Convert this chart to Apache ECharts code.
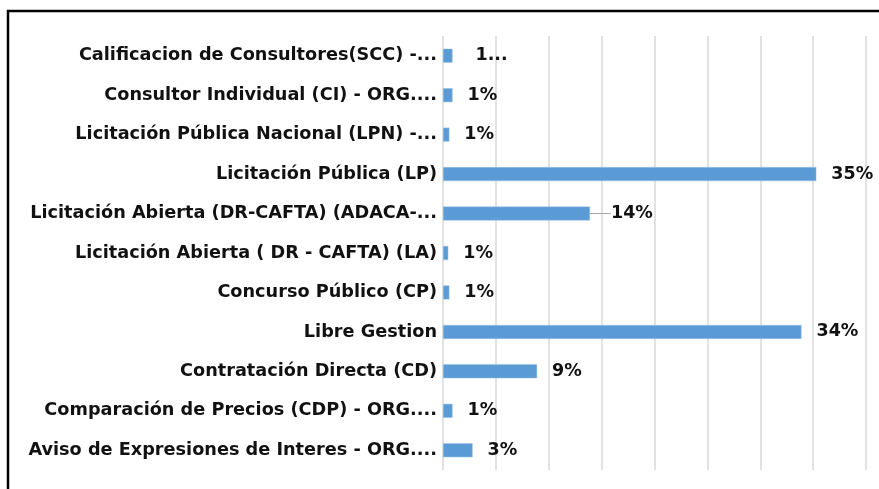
<!DOCTYPE html>
<html>
<head>
<meta charset="utf-8">
<script src="https://cdn.jsdelivr.net/npm/echarts@6/dist/echarts.min.js"></script>
<style>
  html, body { margin: 0; padding: 0; background: #fff; }
  #chart { width: 879px; height: 489px; }
</style>
</head>
<body>
<div id="chart"></div>
<script>
// categories top to bottom, as in the picture
const categories = [
  'Calificacion de Consultores(SCC) -...',
  'Consultor Individual (CI) - ORG....',
  'Licitación Pública Nacional (LPN) -...',
  'Licitación Pública (LP)',
  'Licitación Abierta (DR-CAFTA) (ADACA-...',
  'Licitación Abierta ( DR - CAFTA) (LA)',
  'Concurso Público (CP)',
  'Libre Gestion',
  'Contratación Directa (CD)',
  'Comparación de Precios (CDP) - ORG....',
  'Aviso de Expresiones de Interes - ORG....'
];
// share in percent
const shares = [0.9, 0.9, 0.6, 35.3, 13.9, 0.5, 0.6, 33.9, 8.9, 0.9, 2.8];
const valueLabels = ['1...', '1%', '1%', '35%', '14%', '1%', '1%', '34%', '9%', '1%', '3%'];

const chart = echarts.init(document.getElementById('chart'));

const labelFont = 'DejaVu Sans';

// the 14% label sits a bit away from its bar, with a short leader line
const barData = shares.map((v, i) =>
  i === 4
    ? {
        value: v,
        label: { padding: [0, 0, 0, 9] },
        labelLine: { show: true, lineStyle: { color: '#a6a6a6', width: 1 } }
      }
    : v
);

chart.setOption({
  animation: false,
  grid: { left: 443, right: 13, top: 36, bottom: 19 },
  graphic: [{
    type: 'rect',
    shape: { x: 8, y: 11, width: 900, height: 500 },
    style: { fill: 'none', stroke: '#000', lineWidth: 2.5 },
    silent: true
  }],
  xAxis: {
    type: 'value',
    min: 0,
    max: 40,
    interval: 5,
    axisLabel: { show: false },
    axisLine: { show: false },
    axisTick: { show: false },
    splitLine: { lineStyle: { color: '#d9d9d9', width: 1.5 } }
  },
  yAxis: {
    type: 'category',
    inverse: true,
    data: categories,
    axisTick: { show: false },
    axisLine: { show: false },
    axisLabel: {
      margin: 6,
      color: '#111',
      fontFamily: labelFont,
      fontWeight: 'bold',
      fontSize: 17.7
    }
  },
  series: [{
    type: 'bar',
    data: barData,
    barWidth: 14,
    itemStyle: { color: '#5b9bd5', borderColor: '#9dc3e6', borderWidth: 0.5 },
    label: {
      show: true,
      position: 'right',
      distance: 15,
      color: '#111',
      fontFamily: labelFont,
      fontWeight: 'bold',
      fontSize: 17.5,
      formatter: p => valueLabels[p.dataIndex]
    },
    labelLayout: p => {
      if (p.dataIndex === 4) return { dx: -3 };
      if (p.dataIndex === 0) return { dx: 8 };
      return {};
    }
  }]
});
</script>
</body>
</html>
